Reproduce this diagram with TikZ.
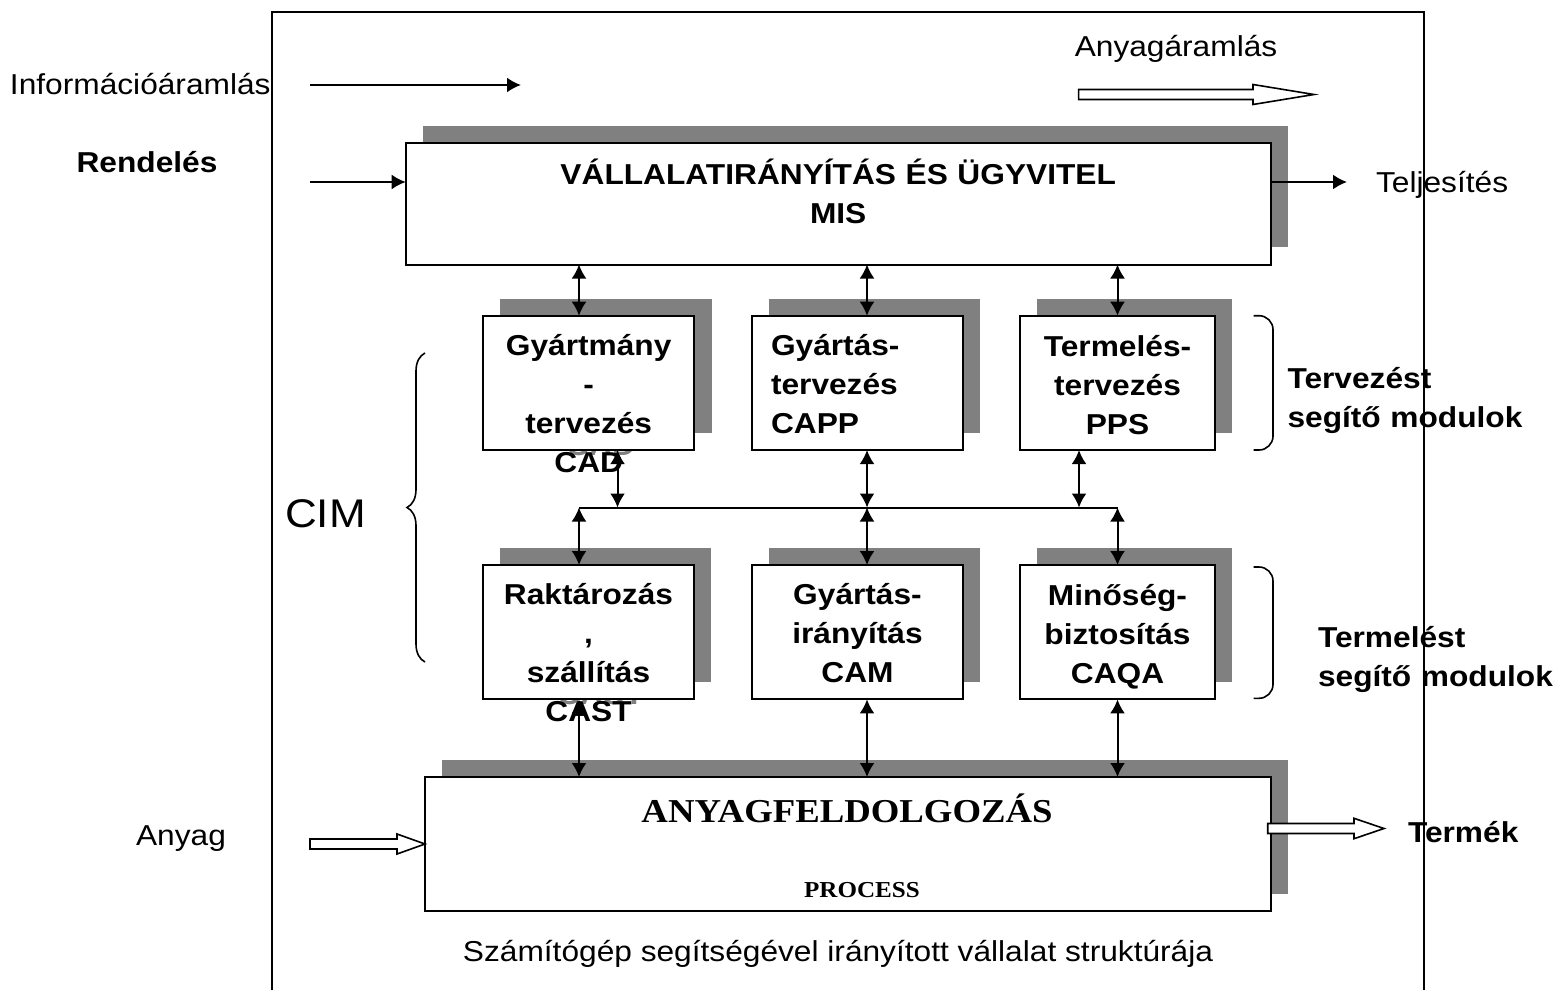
\documentclass[tikz,border=0pt]{standalone}
\usepackage{fontspec}
\setmainfont[FakeStretch=1.1]{Liberation Sans}
\newfontfamily\tms[FakeStretch=1.1]{Liberation Serif}
\usetikzlibrary{arrows.meta,shadows,decorations.pathreplacing}

\begin{document}
\begin{tikzpicture}[x=0.5pt,y=-0.5pt,
  every node/.style={inner sep=0pt,outer sep=0pt,font=\fontsize{14.4}{19.5}\selectfont},
  >={Latex[length=7pt,width=7.5pt]},
  box/.style={draw,fill=white,line width=1pt,drop shadow={shadow xshift=8.6pt,shadow yshift=8.6pt,fill=gray,opacity=1}},
  modul/.style={box,minimum width=105.6pt,minimum height=67.2pt},
  modtxt/.style={anchor=base,text width=110pt,align=center,font=\fontsize{14.4}{19.5}\selectfont\bfseries},
  ghost/.style={modtxt,text=gray},
  side/.style={anchor=base west,text width=140pt,align=left,font=\fontsize{14.4}{19.5}\selectfont\bfseries},
  link/.style={line width=1pt,<->},
  flow/.style={line width=1pt,->},
  hollow/.style={draw,fill=white,line width=0.8pt}]
\useasboundingbox (0,0) rectangle (1556,990);

\draw[line width=0.9pt] (272,990) |- (1424,12) -- (1424,990);

\node[ghost] (cad-g) at (600.7,455) {CAD};
\node[ghost] (cast-g) at (600.5,704.5) {CAST};

\node[box,minimum width=432.5pt,minimum height=60.9pt] (vall) at (838.2,203.6) {};
\node[modul] (gyt) at (588.7,382.9) {};
\node[modul] (gyta) at (857.5,382.9) {};
\node[modul,minimum width=97.5pt] (term) at (1117.5,382.9) {};
\node[modul] (rakt) at (588.5,632.2) {};
\node[modul] (gyir) at (857.5,632.2) {};
\node[modul,minimum width=97.5pt] (mino) at (1117.5,632.2) {};
\node[box,minimum width=423pt,minimum height=67pt] (anyag) at (848,844) {};

\node[modtxt,text width=300pt] (vall-t) at (838.2,184) {VÁLLALATIRÁNYÍTÁS ÉS ÜGYVITEL\\MIS};
\node[modtxt] (gyt-t) at (588.7,355) {Gyártmány\\-\\tervezés\\CAD};
\node[modtxt,anchor=base west,text width=95pt,align=left] (gyta-t) at (771,355) {Gyártás-\\tervezés\\CAPP};
\node[modtxt] (term-t) at (1117.5,356.7) {Termelés-\\tervezés\\PPS};
\node[modtxt] (rakt-t) at (588.5,604) {Raktározás\\,\\szállítás\\CAST};
\node[modtxt] (gyir-t) at (857.5,604) {Gyártás-\\irányítás\\CAM};
\node[modtxt] (mino-t) at (1117.5,605) {Minőség-\\biztosítás\\CAQA};
\node[anchor=base,font=\tms\bfseries\fontsize{16.7}{20}\selectfont] (anyag-t) at (847,822) {ANYAGFELDOLGOZÁS};
\node[anchor=base,font=\tms\bfseries\fontsize{11.4}{14}\selectfont] (proc-t) at (862,897) {PROCESS};

\coordinate (infs) at (310,85);
\coordinate (infe) at (521,85);
\coordinate (rends) at (310,182);
\coordinate (tele) at (1347,182);
\coordinate (bus1) at (579,507.5);
\coordinate (bus2) at (867,507.5);
\coordinate (bus3) at (1117.5,507.5);
\coordinate (bus1b) at (617.5,507.5);
\coordinate (bus3b) at (1079,507.5);

\draw[flow] (infs) -- (infe);
\draw[flow] (rends) -- (rends -| vall.west);
\draw[flow] (tele -| vall.east) -- (tele);

\draw[link] (vall.south -| bus1) -- (gyt.north -| bus1);
\draw[link] (vall.south -| bus2) -- (gyta.north -| bus2);
\draw[link] (vall.south -| bus3) -- (term.north -| bus3);

\draw[line width=1pt] (bus1) -- (bus3);
\draw[link] (gyt.south -| bus1b) -- (bus1b);
\draw[link] (gyta.south -| bus2) -- (bus2);
\draw[link] (term.south -| bus3b) -- (bus3b);
\draw[link] (bus1) -- (rakt.north -| bus1);
\draw[link] (bus2) -- (gyir.north -| bus2);
\draw[link] (bus3) -- (mino.north -| bus3);

\draw[link] (rakt.south -| bus1) -- (anyag.north -| bus1);
\draw[link] (gyir.south -| bus2) -- (anyag.north -| bus2);
\draw[link] (mino.south -| bus3) -- (anyag.north -| bus3);

\draw[hollow] (1078.6,89.5) -- (1253,89.5) -- (1253,84.5) -- (1314,94.5) -- (1253,104.5) -- (1253,99.5) -- (1078.6,99.5) -- cycle;
\draw[hollow] (310,839) -- (397,839) -- (397,834) -- (anyag.west) -- (397,854) -- (397,849) -- (310,849) -- cycle;
\draw[hollow] (1267.7,823.5) -- (1354,823.5) -- (1354,818.3) -- (1384,828.5) -- (1354,838.7) -- (1354,833.5) -- (1267.7,833.5) -- cycle;

\draw[line width=0.8pt,decorate,decoration={brace,amplitude=9pt}] (425,662) -- (425,353);
\draw[line width=0.8pt,rounded corners=7pt] (1253.6,315.7) -| (1273,383) |- (1253.6,450);
\draw[line width=0.8pt,rounded corners=7pt] (1253.6,567) -| (1273,632) |- (1253.6,698.3);

\node[anchor=base west] (info) at (10,95) {Információáramlás};
\node[anchor=base] (anyagar) at (1176,57) {Anyagáramlás};
\node[anchor=base,font=\fontsize{14.4}{19.5}\selectfont\bfseries] (rend) at (147,172) {Rendelés};
\node[anchor=base west] (telj) at (1376,192) {Teljesítés};
\node[anchor=base west,font=\fontsize{20}{24}\selectfont] (cim) at (285,527) {CIM};
\node[side] (terv) at (1287.5,388) {Tervezést\\segítő modulok};
\node[side] (termel) at (1318,647) {Termelést\\segítő modulok};
\node[anchor=base] (anyagl) at (181,845) {Anyag};
\node[anchor=base west,font=\fontsize{14.4}{19.5}\selectfont\bfseries] (termek) at (1408,842) {Termék};
\node[anchor=base] (cap) at (838,961) {Számítógép segítségével irányított vállalat struktúrája};
\end{tikzpicture}
\end{document}
